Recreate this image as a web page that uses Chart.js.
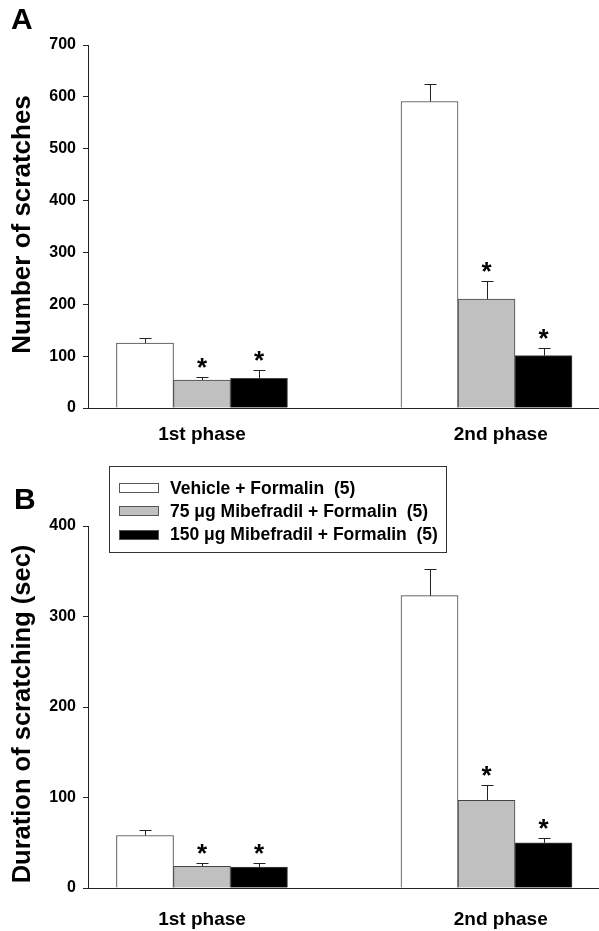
<!DOCTYPE html>
<html>
<head>
<meta charset="utf-8">
<script src="https://cdn.jsdelivr.net/npm/chart.js@4.4.1/dist/chart.umd.min.js"></script>
<style>
body{margin:0;background:#fff;font-family:"Liberation Sans",Arial,sans-serif;}
#page{position:relative;width:599px;height:931px;overflow:hidden;}
.panel{position:absolute;left:0;}
.letter{position:absolute;font-weight:bold;font-size:30px;line-height:30px;}
#legend{position:absolute;left:109px;top:466px;width:336px;height:85px;border:1px solid #333;background:#fff;}
.row{position:absolute;left:9px;height:20px;display:flex;align-items:center;font-weight:bold;font-size:17.5px;white-space:pre;}
.swatch{width:38px;height:8px;border:1px solid #555;margin-right:11px;}
</style>
</head>
<body>
<div id="page">
    <div class="panel" style="top:0"><canvas id="chartA" width="599" height="460"></canvas></div>
    <div class="panel" style="top:460px"><canvas id="chartB" width="599" height="471"></canvas></div>
    <div class="letter" style="left:11px;top:4px">A</div>
    <div class="letter" style="left:14px;top:484px">B</div>
    <div id="legend"></div>
</div>
<script>
// ================= DATA =================
let phaseLabels = ["1st phase", "2nd phase"];
let phasePos = [1, 2];

let seriesLabels = [
    "Vehicle + Formalin  (5)",
    "75 μg Mibefradil + Formalin  (5)",
    "150 μg Mibefradil + Formalin  (5)"
];
let seriesColors = ["#ffffff", "#c0c0c0", "#000000"];

// significance stars (per series, per phase)
let stars = [
    [false, false],
    [true, true],
    [true, true]
];

// panel A : number of scratches (mean, SEM)
let countVehicle = [125, 591];
let count75 = [54, 210];
let count150 = [57, 101];
let countVehicleErr = [10, 34];
let count75Err = [5, 35];
let count150Err = [16, 15];

// panel B : duration of scratching in sec (mean, SEM)
let durVehicle = [58, 323];
let dur75 = [24, 97];
let dur150 = [23, 50];
let durVehicleErr = [6, 30];
let dur75Err = [4, 17];
let dur150Err = [5, 5];

Chart.defaults.font.family = "'Liberation Sans', Arial, sans-serif";
Chart.defaults.color = "#000";

// ================= ERROR BARS + STARS =================
let errorPlugin = {

    id: "errorBars",

    afterDatasetsDraw(chart){

        let ctx = chart.ctx;
        let yScale = chart.scales.y;

        chart.data.datasets.forEach((ds, i) => {

            let meta = chart.getDatasetMeta(i);

            meta.data.forEach((bar, j) => {

                let top = yScale.getPixelForValue(ds.data[j].y + ds.err[j]);
                let x = Math.round(bar.x) + 0.5;
                let yTop = Math.round(top) + 0.5;

                ctx.save();
                ctx.strokeStyle = "#222";
                ctx.lineWidth = 1;
                ctx.beginPath();
                ctx.moveTo(x, bar.y);
                ctx.lineTo(x, yTop);
                ctx.moveTo(x - 6, yTop);
                ctx.lineTo(x + 6, yTop);
                ctx.stroke();

                if(ds.star[j]){
                    ctx.fillStyle = "#000";
                    ctx.font = "bold 26px 'Liberation Sans', Arial";
                    ctx.textAlign = "center";
                    ctx.fillText("*", bar.x, top - 1);
                }

                ctx.restore();

            });

        });

    }

};

// ================= Y TITLE =================
let yTitlePlugin = {

    id: "yTitle",

    afterDraw(chart, args, opts){

        let ctx = chart.ctx;
        let area = chart.chartArea;

        ctx.save();
        ctx.translate(opts.x, (area.top + area.bottom) / 2 + opts.shift);
        ctx.rotate(-Math.PI / 2);
        ctx.font = `bold ${opts.size}px 'Liberation Sans', Arial`;
        ctx.fillStyle = "#000";
        ctx.textAlign = "center";
        ctx.textBaseline = "middle";
        ctx.fillText(opts.text, 0, 0);
        ctx.restore();

    }

};

// ================= CHART =================
function makeChart(id, means, errs, yMax, yTitle, pad){

    let datasets = means.map((m, i) => ({

        label: seriesLabels[i],

        data: m.map((v, j) => ({ x: phasePos[j], y: v })),

        err: errs[i],

        star: stars[i],

        backgroundColor: seriesColors[i],

        borderColor: "#444",

        borderWidth: 1,

        barThickness: 57

    }));

    return new Chart(document.getElementById(id), {

        type: "bar",

        data: { datasets: datasets },

        options: {

            responsive: false,

            animation: false,

            layout: { padding: { top: pad.top, left: 0, right: 0, bottom: 0 } },

            plugins: {
                legend: { display: false },
                tooltip: { enabled: false },
                yTitle: { text: yTitle, size: pad.titleSize, x: 23, shift: pad.titleShift }
            },

            scales: {

                x: {
                    type: "linear",
                    min: 0.5993,
                    max: 2.3954,
                    offset: false,
                    grid: { display: true, drawOnChartArea: false, drawTicks: false },
                    border: { color: "#222", width: 1 },
                    ticks: {
                        font: { size: 19, weight: "bold" },
                        padding: pad.label,
                        maxRotation: 0,
                        callback: (v, i) => phaseLabels[i]
                    },
                    afterBuildTicks: s => {
                        s.ticks = phasePos.map((v, i) => ({ value: v + (i ? 0.05 : 0) }));
                    },
                    afterFit: s => { s.height = pad.bottom; }
                },

                y: {
                    min: 0,
                    max: yMax,
                    grid: { drawOnChartArea: false, tickLength: 5, color: "#222" },
                    border: { color: "#222", width: 1 },
                    ticks: {
                        stepSize: 100,
                        padding: 7,
                        font: { size: 16, weight: "bold" }
                    },
                    afterFit: s => { s.width = 88; }
                }

            }

        },

        plugins: [errorPlugin, yTitlePlugin]

    });

}

makeChart(
    "chartA",
    [countVehicle, count75, count150],
    [countVehicleErr, count75Err, count150Err],
    700,
    "Number of scratches",
    { top: 45, bottom: 52, label: 15, titleSize: 26, titleShift: -2 }
);

makeChart(
    "chartB",
    [durVehicle, dur75, dur150],
    [durVehicleErr, dur75Err, dur150Err],
    400,
    "Duration of scratching (sec)",
    { top: 66, bottom: 43, label: 20, titleSize: 25.5, titleShift: 7 }
);

// ================= LEGEND =================
let legend = document.getElementById("legend");

seriesLabels.forEach((label, i) => {

    let row = document.createElement("div");

    row.classList.add("row");

    row.style.top = (11 + i * 23.3) + "px";

    row.innerHTML = `<div class="swatch" style="background:${seriesColors[i]}"></div>${label}`;

    legend.appendChild(row);

});
</script>
</body>
</html>
